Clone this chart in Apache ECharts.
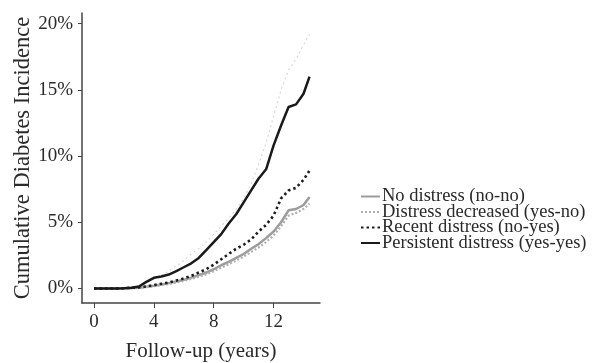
<!DOCTYPE html>
<html>
<head>
<meta charset="utf-8">
<script src="https://cdn.jsdelivr.net/npm/echarts@6/dist/echarts.min.js"></script>
<style>
  html, body { margin: 0; padding: 0; background: #fff; }
  #chart { width: 592px; height: 363px; }
</style>
</head>
<body>
<div id="chart"></div>
<script>
// Follow-up time points (years)
const years = [0, 0.5, 1, 1.5, 2, 2.5, 3, 3.5, 4, 4.5, 5, 5.5, 6, 6.5, 7, 7.5, 8, 8.5, 9, 9.5,
               10, 10.5, 11, 11.5, 12, 12.5, 13, 13.5, 14, 14.4];

// Cumulative incidence (%) per distress group
const noDistress = [0, 0, 0, 0, 0.01, 0.03, 0.06, 0.12, 0.2, 0.3, 0.4, 0.52, 0.65, 0.82, 1.0, 1.2, 1.45, 1.75, 2.0, 2.3,
                    2.6, 3.0, 3.35, 3.8, 4.3, 5.0, 5.9, 6.0, 6.3, 6.9];
const distressDecreased = [0, 0, 0, 0, 0.01, 0.02, 0.05, 0.1, 0.17, 0.25, 0.34, 0.45, 0.57, 0.72, 0.88, 1.07, 1.3, 1.57, 1.82, 2.1,
                           2.4, 2.75, 3.1, 3.5, 4.0, 4.7, 5.5, 5.7, 6.0, 6.4];
const recentDistress = [0, 0, 0, 0, 0.02, 0.05, 0.08, 0.15, 0.25, 0.35, 0.45, 0.6, 0.75, 0.95, 1.2, 1.45, 1.8, 2.2, 2.6, 3.0,
                        3.3, 3.7, 4.3, 4.8, 5.5, 6.8, 7.4, 7.6, 8.2, 8.9];
const persistentDistress = [0, 0, 0, 0, 0.02, 0.05, 0.15, 0.5, 0.8, 0.9, 1.05, 1.3, 1.6, 1.9, 2.3, 2.9, 3.5, 4.1, 4.9, 5.6,
                            6.5, 7.4, 8.3, 9.0, 10.8, 12.3, 13.7, 13.9, 14.7, 16.0];
// Faint reference curve
const referenceCurve = [0, 0, 0, 0, 0, 0.05, 0.15, 0.4, 0.7, 1.0, 1.3, 1.7, 2.1, 2.6, 3.0, 3.5, 4.1, 4.7, 5.3, 6.0,
                        6.8, 7.9, 9.4, 11.0, 13.0, 15.0, 16.5, 17.3, 18.4, 19.2];

// Axis tick positions
const xTicks = [0, 4, 8, 12];
const yTicks = [0, 5, 10, 15, 20];

const pairs = vals => years.map((x, i) => [x, vals[i]]);
const serif = '"Liberation Serif", "DejaVu Serif", serif';

function curve(name, vals, color, width, dash, z) {
  return {
    name: name,
    type: 'line',
    data: pairs(vals),
    symbol: 'none',
    z: z,
    itemStyle: { color: color },
    lineStyle: { color: color, width: width, type: dash }
  };
}

const chart = echarts.init(document.getElementById('chart'));
chart.setOption({
  animation: false,
  backgroundColor: '#fff',
  grid: { left: 82, right: 272, top: 13, bottom: 60, outerBoundsMode: 'none', containLabel: false },
  legend: {
    orient: 'vertical',
    left: 355,
    top: 182,
    itemWidth: 19,
    itemHeight: 10,
    itemGap: -3.5,
    itemStyle: { opacity: 0 },
    textStyle: { fontFamily: serif, fontSize: 18.5, lineHeight: 16, color: '#2a2a2a', padding: [0, 0, 0, -3] },
    data: ['No distress (no-no)', 'Distress decreased (yes-no)', 'Recent distress (no-yes)', 'Persistent distress (yes-yes)']
  },
  xAxis: {
    type: 'value',
    min: -0.8,
    max: 15.1,
    name: 'Follow-up (years)',
    nameLocation: 'middle',
    nameGap: 38,
    nameTextStyle: { fontFamily: serif, fontSize: 21, color: '#2a2a2a' },
    axisLine: { show: true, onZero: false, lineStyle: { color: '#444', width: 1.5 } },
    axisTick: { show: true, length: 5, customValues: xTicks, lineStyle: { color: '#444' } },
    axisLabel: { customValues: xTicks, fontFamily: serif, fontSize: 19, color: '#2a2a2a', margin: 10 },
    splitLine: { show: false }
  },
  yAxis: {
    type: 'value',
    min: -1.1,
    max: 20.8,
    name: 'Cumulative Diabetes Incidence',
    nameLocation: 'middle',
    nameGap: 44,
    nameTextStyle: { fontFamily: serif, fontSize: 22.5, color: '#2a2a2a' },
    axisLine: { show: true, onZero: false, lineStyle: { color: '#444', width: 1.5 } },
    axisTick: { show: true, length: 4, customValues: yTicks, lineStyle: { color: '#444' } },
    axisLabel: { customValues: yTicks, formatter: '{value}%', fontFamily: serif, fontSize: 19, color: '#2a2a2a', margin: 9 },
    splitLine: { show: false }
  },
  series: [
    curve('reference', referenceCurve, '#d8d8d8', 1.2, [2, 3], 1),
    curve('No distress (no-no)', noDistress, '#9c9c9c', 2.5, 'solid', 2),
    curve('Distress decreased (yes-no)', distressDecreased, '#b0b0b0', 2.2, [2, 2], 3),
    curve('Recent distress (no-yes)', recentDistress, '#1e1e1e', 2.6, [2.5, 3], 4),
    curve('Persistent distress (yes-yes)', persistentDistress, '#1a1a1a', 2.5, 'solid', 5)
  ]
});
</script>
</body>
</html>
